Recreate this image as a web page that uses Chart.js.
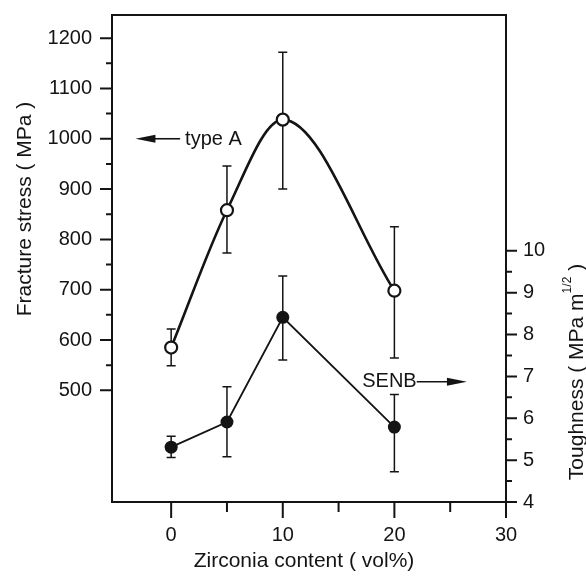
<!DOCTYPE html>
<html>
<head>
<meta charset="utf-8">
<script src="https://cdn.jsdelivr.net/npm/chart.js@4.4.1/dist/chart.umd.min.js"></script>
<style>
  html, body { margin: 0; padding: 0; background: #fff; }
  #wrap { width: 586px; height: 579px; }
</style>
</head>
<body>
<div id="wrap"><canvas id="chart" width="586" height="579"></canvas></div>
<script>
// Values
const zirconia = [0, 5, 10, 20];
const typeAStress = [585, 858, 1038, 698];
const typeALow = [549, 773, 900, 564];
const typeAHigh = [622, 946, 1172, 825];
const senbTough = [5.31, 5.91, 8.41, 5.79];
const senbLow = [5.06, 5.08, 7.39, 4.72];
const senbHigh = [5.57, 6.75, 9.40, 6.57];

const xTicks = [0, 10, 20, 30];
const xMinor = [5, 15, 25];
const stressTicks = [500, 600, 700, 800, 900, 1000, 1100, 1200];
const stressMinor = [550, 650, 750, 850, 950, 1050, 1150];
const toughTicks = [4, 5, 6, 7, 8, 9, 10];
const toughMinor = [4.5, 5.5, 6.5, 7.5, 8.5, 9.5];

const INK = '#141414';
const FONT = "'Liberation Sans', Arial, Helvetica, sans-serif";

const pts = (xs, ys) => xs.map((x, i) => ({ x: x, y: ys[i] }));

// error bars, tick marks, frame, labels and axis titles
const figurePlugin = {
    id: 'figure',
    beforeDatasetsDraw(chart) {
        const ctx = chart.ctx;
        const x = chart.scales.x, yl = chart.scales.y, yr = chart.scales.y2;
        ctx.save();
        ctx.strokeStyle = INK;
        ctx.lineWidth = 1.5;
        const bar = (px, lo, hi) => {
            ctx.beginPath();
            ctx.moveTo(px, lo); ctx.lineTo(px, hi);
            ctx.moveTo(px - 4.5, lo); ctx.lineTo(px + 4.5, lo);
            ctx.moveTo(px - 4.5, hi); ctx.lineTo(px + 4.5, hi);
            ctx.stroke();
        };
        zirconia.forEach((z, i) => {
            const px = x.getPixelForValue(z);
            bar(px, yl.getPixelForValue(typeALow[i]), yl.getPixelForValue(typeAHigh[i]));
            bar(px, yr.getPixelForValue(senbLow[i]), yr.getPixelForValue(senbHigh[i]));
        });
        ctx.restore();
    },
    afterDraw(chart) {
        const ctx = chart.ctx;
        const a = chart.chartArea;
        const x = chart.scales.x, yl = chart.scales.y, yr = chart.scales.y2;
        ctx.save();
        ctx.strokeStyle = INK;
        ctx.fillStyle = INK;

        // top edge of the frame
        ctx.lineWidth = 2;
        ctx.beginPath();
        ctx.moveTo(a.left - 1, a.top); ctx.lineTo(a.right + 1, a.top);
        ctx.stroke();

        // tick marks, pointing outward
        ctx.lineWidth = 2;
        ctx.beginPath();
        xTicks.forEach(v => { const p = x.getPixelForValue(v); ctx.moveTo(p, a.bottom); ctx.lineTo(p, a.bottom + 16); });
        xMinor.forEach(v => { const p = x.getPixelForValue(v); ctx.moveTo(p, a.bottom); ctx.lineTo(p, a.bottom + 10); });
        stressTicks.forEach(v => { const p = yl.getPixelForValue(v); ctx.moveTo(a.left, p); ctx.lineTo(a.left - 12, p); });
        stressMinor.forEach(v => { const p = yl.getPixelForValue(v); ctx.moveTo(a.left, p); ctx.lineTo(a.left - 6, p); });
        toughTicks.forEach(v => { const p = yr.getPixelForValue(v); ctx.moveTo(a.right, p); ctx.lineTo(a.right + 11, p); });
        toughMinor.forEach(v => { const p = yr.getPixelForValue(v); ctx.moveTo(a.right, p); ctx.lineTo(a.right + 6, p); });
        ctx.stroke();

        // "type A" with arrow pointing at the left axis
        const yA = yl.getPixelForValue(1000);
        const tipA = x.getPixelForValue(-3.2), tailA = x.getPixelForValue(0.8);
        ctx.lineWidth = 1.6;
        ctx.beginPath(); ctx.moveTo(tipA + 14, yA); ctx.lineTo(tailA, yA); ctx.stroke();
        ctx.beginPath();
        ctx.moveTo(tipA, yA); ctx.lineTo(tipA + 20, yA - 4); ctx.lineTo(tipA + 20, yA + 4); ctx.closePath();
        ctx.fill();
        ctx.font = '20px ' + FONT;
        ctx.textBaseline = 'middle';
        ctx.textAlign = 'left';
        ctx.fillText('type A', tailA + 5, yA + 1);

        // "SENB" with arrow pointing at the right axis
        const yS = yr.getPixelForValue(6.87);
        const endS = x.getPixelForValue(22.0), tipS = x.getPixelForValue(26.5);
        ctx.textAlign = 'right';
        ctx.fillText('SENB', endS, yS);
        ctx.beginPath(); ctx.moveTo(endS, yS); ctx.lineTo(tipS - 14, yS); ctx.stroke();
        ctx.beginPath();
        ctx.moveTo(tipS, yS); ctx.lineTo(tipS - 20, yS - 4); ctx.lineTo(tipS - 20, yS + 4); ctx.closePath();
        ctx.fill();

        // axis titles
        ctx.font = '21px ' + FONT;
        ctx.textAlign = 'center';
        ctx.textBaseline = 'middle';
        ctx.fillText('Zirconia content ( vol%)', 304, 561);

        ctx.save();
        ctx.translate(25, 209);
        ctx.rotate(-Math.PI / 2);
        ctx.fillText('Fracture stress ( MPa )', 0, 0);
        ctx.restore();

        ctx.save();
        ctx.translate(577, 372);
        ctx.rotate(-Math.PI / 2);
        const big = '21px ' + FONT, small = '12px ' + FONT;
        const s1 = 'Toughness ( MPa m', s2 = '1/2', s3 = ' )';
        ctx.font = big; const w1 = ctx.measureText(s1).width, w3 = ctx.measureText(s3).width;
        ctx.font = small; const w2 = ctx.measureText(s2).width;
        let cx = -(w1 + w2 + w3) / 2;
        ctx.textAlign = 'left';
        ctx.font = big; ctx.fillText(s1, cx, 0); cx += w1;
        ctx.font = small; ctx.fillText(s2, cx, -9); cx += w2;
        ctx.font = big; ctx.fillText(s3, cx, 0);
        ctx.restore();

        ctx.restore();
    }
};

const tickFont = { family: FONT, size: 20 };
const plain = v => String(v);
const noPad = s => { s.paddingTop = 0; s.paddingBottom = 0; s.paddingLeft = 0; s.paddingRight = 0; };

new Chart(document.getElementById('chart'), {
    type: 'line',
    data: {
        datasets: [
            {
                label: 'type A',
                data: pts(zirconia, typeAStress),
                yAxisID: 'y',
                borderColor: INK,
                borderWidth: 2.6,
                tension: 0.4,
                cubicInterpolationMode: 'monotone',
                pointRadius: 6,
                pointBorderWidth: 2.2,
                pointBackgroundColor: '#ffffff',
                pointBorderColor: INK
            },
            {
                label: 'SENB',
                data: pts(zirconia, senbTough),
                yAxisID: 'y2',
                borderColor: INK,
                borderWidth: 1.8,
                tension: 0,
                pointRadius: 6.5,
                pointBorderWidth: 0,
                pointBackgroundColor: INK,
                pointBorderColor: INK
            }
        ]
    },
    options: {
        responsive: false,
        animation: false,
        devicePixelRatio: 1,
        layout: { padding: { top: 15, left: 0, right: 0, bottom: 0 } },
        plugins: { legend: { display: false }, tooltip: { enabled: false } },
        scales: {
            x: {
                type: 'linear',
                min: -5.3,
                max: 30,
                afterBuildTicks: s => { s.ticks = xTicks.map(v => ({ value: v })); },
                afterFit: s => { s.height = 77; noPad(s); },
                grid: { display: false, drawTicks: false },
                border: { display: true, color: INK, width: 2 },
                ticks: { font: tickFont, color: INK, padding: 21, maxRotation: 0, callback: plain }
            },
            y: {
                type: 'linear',
                position: 'left',
                min: 278,
                max: 1246,
                afterBuildTicks: s => { s.ticks = stressTicks.map(v => ({ value: v })); },
                afterFit: s => { s.width = 112; noPad(s); },
                grid: { display: false, drawTicks: false },
                border: { display: true, color: INK, width: 2 },
                ticks: { font: tickFont, color: INK, padding: 20, callback: plain }
            },
            y2: {
                type: 'linear',
                position: 'right',
                min: 4,
                max: 15.63,
                afterBuildTicks: s => { s.ticks = toughTicks.map(v => ({ value: v })); },
                afterFit: s => { s.width = 80; noPad(s); },
                grid: { display: false, drawTicks: false },
                border: { display: true, color: INK, width: 2 },
                ticks: { font: tickFont, color: INK, padding: 17, callback: plain }
            }
        }
    },
    plugins: [figurePlugin]
});
</script>
</body>
</html>
